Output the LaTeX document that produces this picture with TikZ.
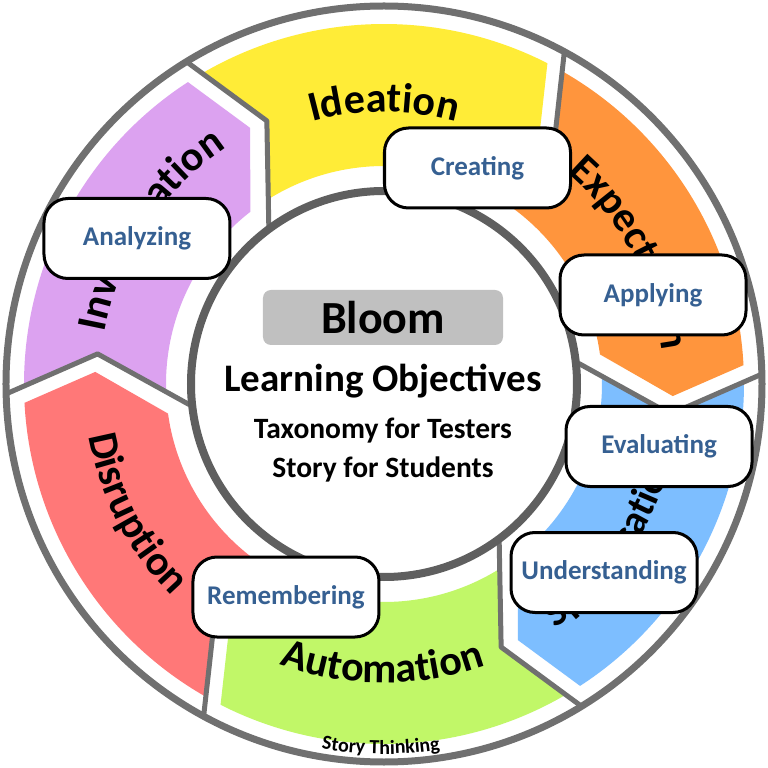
\documentclass[tikz,border=0pt]{standalone}
\usepackage{fontspec}
\setmainfont{Carlito}
\usetikzlibrary{decorations.text}
\definecolor{segpurple}{RGB}{220,162,240}
\definecolor{segyellow}{RGB}{255,236,55}
\definecolor{segorange}{RGB}{255,149,61}
\definecolor{segblue}{RGB}{125,190,255}
\definecolor{seggreen}{RGB}{193,247,104}
\definecolor{segred}{RGB}{255,120,120}
\definecolor{ringgray}{RGB}{112,112,112}
\definecolor{hubgray}{RGB}{95,95,95}
\definecolor{bloomgray}{RGB}{192,192,192}
\definecolor{levelblue}{RGB}{54,96,146}
\newcommand\segfont{\fontsize{42}{46}\selectfont\bfseries}
\tikzset{
  levelbox/.style={draw=black, line width=3pt, rounded corners=24pt, fill=white,
    minimum width=186pt, minimum height=80pt, text=levelblue,
    font=\fontsize{27}{30}\selectfont\bfseries},
  hubtext/.style={anchor=base, font=\fontsize{29.5}{32}\selectfont\bfseries},
  arcword/.style={decorate, decoration={text along path, text align=center, text={#1}}}
}
\begin{document}
\begin{tikzpicture}[x=1pt, y=1pt, line join=round, line cap=round]
    \useasboundingbox (-384,-384) rectangle (384,384);
    % outer ring
    \draw[ringgray, line width=7pt, fill=white] (0,0) circle (378);
    % coloured arrows, clockwise
    \fill[segpurple] (180.3:360) arc[start angle=180.3, end angle=123, radius=360] -- (117.6:289) -- (127.8:218) arc[start angle=127.8, end angle=182.5, radius=218] -- (174:288) -- cycle;
    \fill[segyellow] (120.3:360) arc[start angle=120.3, end angle=63, radius=360] -- (57.6:289) -- (67.8:218) arc[start angle=67.8, end angle=122.5, radius=218] -- (114:288) -- cycle;
    \fill[segorange] (60.3:360) arc[start angle=60.3, end angle=3, radius=360] -- (-2.4:289) -- (7.8:218) arc[start angle=7.8, end angle=62.5, radius=218] -- (54:288) -- cycle;
    \fill[segblue] (0.3:360) arc[start angle=0.3, end angle=-57, radius=360] -- (-62.4:289) -- (-52.2:218) arc[start angle=-52.2, end angle=2.5, radius=218] -- (-6:288) -- cycle;
    \fill[seggreen] (-59.7:360) arc[start angle=-59.7, end angle=-117, radius=360] -- (-122.4:289) -- (-112.2:218) arc[start angle=-112.2, end angle=-57.5, radius=218] -- (-66:288) -- cycle;
    \fill[segred] (-119.7:360) arc[start angle=-119.7, end angle=-177, radius=360] -- (-182.4:289) -- (-172.2:218) arc[start angle=-172.2, end angle=-117.5, radius=218] -- (-126:288) -- cycle;
    % arrow edges
    \draw[ringgray, line width=5pt] (181.5:378) -- (174:288) -- (186:196);
    \draw[ringgray, line width=5pt] (121.5:378) -- (114:288) -- (126:196);
    \draw[ringgray, line width=5pt] (61.5:378) -- (54:288) -- (66:196);
    \draw[ringgray, line width=5pt] (1.5:378) -- (-6:288) -- (6:196);
    \draw[ringgray, line width=5pt] (-58.5:378) -- (-66:288) -- (-54:196);
    \draw[ringgray, line width=5pt] (-118.5:378) -- (-126:288) -- (-114:196);
    % hub
    \draw[hubgray, line width=8pt, fill=white] (0,0) circle (193);
    % phase names along the ring
    \path[arcword={|\segfont|Investigation}] (206.6:284) arc[start angle=206.6, end angle=86.6, radius=284];
    \path[arcword={|\segfont|Ideation}] (150:272) arc[start angle=150, end angle=30, radius=272];
    \path[arcword={|\segfont|Expectation}] (88:280) arc[start angle=88, end angle=-32, radius=280];
    \path[arcword={|\fontsize{40}{44}\selectfont\bfseries|Specification}] (-94.5:298) arc[start angle=-94.5, end angle=25.5, radius=298];
    \path[arcword={|\segfont|Automation}] (-150.3:299) arc[start angle=-150.3, end angle=-30.3, radius=299];
    \path[arcword={|\segfont|Disruption}] (147.5:300) arc[start angle=147.5, end angle=267.5, radius=300];
    \path[arcword={|\fontsize{20}{22}\selectfont\bfseries|Story Thinking}] (-150.5:370) arc[start angle=-150.5, end angle=-30.5, radius=370];
    % hub text
    \node[fill=bloomgray, rounded corners=8pt, minimum width=240pt, minimum height=55pt,
      font=\fontsize{46}{50}\selectfont\bfseries] (bloom) at (-1,66.5) {Bloom};
    \node[anchor=base, font=\fontsize{39}{42}\selectfont\bfseries] (objectives) at (-1,-8) {Learning Objectives};
    \node[hubtext] (testers) at (-1,-55) {Taxonomy for Testers};
    \node[hubtext] (students) at (-1,-93) {Story for Students};
    % levels
    \node[levelbox] (creating) at (93.5,216) {Creating};
    \node[levelbox] (applying) at (269,89) {Applying};
    \node[levelbox] (evaluating) at (275,-62.5) {Evaluating};
    \node[levelbox] (understanding) at (220,-188.5) {Understanding};
    \node[levelbox] (remembering) at (-98,-213) {Remembering};
    \node[levelbox] (analyzing) at (-247,145.5) {Analyzing};
\end{tikzpicture}
\end{document}
